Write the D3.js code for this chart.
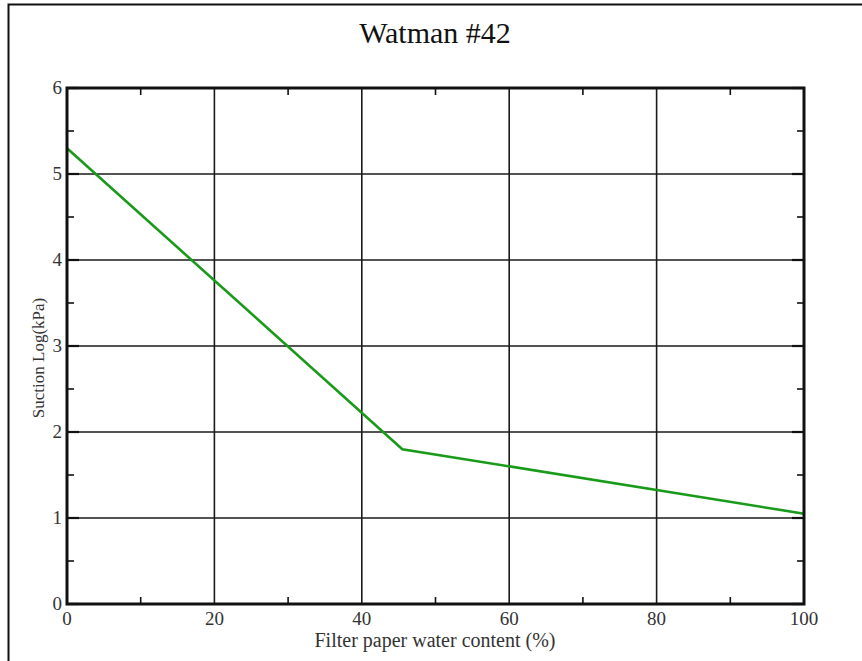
<!DOCTYPE html>
<html><head><meta charset="utf-8">
<script src="https://cdn.jsdelivr.net/npm/d3@7"></script>
<style>body{margin:0;background:#fff}svg{display:block}</style>
</head><body>
<script>
const title = "Watman #42";
const xLabel = "Filter paper water content (%)";
const yLabel = "Suction Log(kPa)";
const waterContent = [0, 45.5, 100];
const suction = [5.3, 1.8, 1.05];
const xTicks = [0, 20, 40, 60, 80, 100];
const yTicks = [0, 1, 2, 3, 4, 5, 6];
const xMinor = [10, 30, 50, 70, 90];
const yMinor = [0.5, 1.5, 2.5, 3.5, 4.5, 5.5];

const W = 862, H = 661;
const m = {left: 67, right: 862 - 804, top: 88, bottom: 661 - 604};
const svg = d3.select("body").append("svg").attr("width", W).attr("height", H);

// outer frame
svg.append("rect").attr("x", 8.5).attr("y", 4.5).attr("width", W).attr("height", H)
  .attr("fill", "none").attr("stroke", "#111").attr("stroke-width", 2);

const x = d3.scaleLinear().domain([0, 100]).range([m.left, W - m.right]);
const y = d3.scaleLinear().domain([0, 6]).range([H - m.bottom, m.top]);
const serif = "'Liberation Serif', 'DejaVu Serif', serif";

// grid
const g = svg.append("g");
g.selectAll("line.gx").data(xTicks.slice(1, -1)).join("line")
  .attr("x1", d => x(d)).attr("x2", d => x(d)).attr("y1", y(0)).attr("y2", y(6))
  .attr("stroke", "#1a1a1a").attr("stroke-width", 1.6);
g.selectAll("line.gy").data(yTicks.slice(1, -1)).join("line")
  .attr("y1", d => y(d)).attr("y2", d => y(d)).attr("x1", x(0)).attr("x2", x(100))
  .attr("stroke", "#1a1a1a").attr("stroke-width", 1.6);

// minor ticks inward
const tl = 7;
g.selectAll("line.mxb").data(xMinor).join("line")
  .attr("x1", d => x(d)).attr("x2", d => x(d)).attr("y1", y(0)).attr("y2", y(0) - tl)
  .attr("stroke", "#111").attr("stroke-width", 1.6);
g.selectAll("line.mxt").data(xMinor).join("line")
  .attr("x1", d => x(d)).attr("x2", d => x(d)).attr("y1", y(6)).attr("y2", y(6) + tl)
  .attr("stroke", "#111").attr("stroke-width", 1.6);
g.selectAll("line.myl").data(yMinor).join("line")
  .attr("y1", d => y(d)).attr("y2", d => y(d)).attr("x1", x(0)).attr("x2", x(0) + tl)
  .attr("stroke", "#111").attr("stroke-width", 1.6);
g.selectAll("line.myr").data(yMinor).join("line")
  .attr("y1", d => y(d)).attr("y2", d => y(d)).attr("x1", x(100)).attr("x2", x(100) - tl)
  .attr("stroke", "#111").attr("stroke-width", 1.6);
g.selectAll("line.myl2").data(yTicks).join("line")
  .attr("y1", d => y(d)).attr("y2", d => y(d)).attr("x1", x(0)).attr("x2", x(0) + 12)
  .attr("stroke", "#111").attr("stroke-width", 2.2);
g.selectAll("line.myr2").data(yTicks).join("line")
  .attr("y1", d => y(d)).attr("y2", d => y(d)).attr("x1", x(100)).attr("x2", x(100) - 12)
  .attr("stroke", "#111").attr("stroke-width", 2.2);

// data line
const line = d3.line().x((d, i) => x(waterContent[i])).y(d => y(d));
svg.append("path").datum(suction).attr("d", line)
  .attr("fill", "none").attr("stroke", "#1a9a1a").attr("stroke-width", 2.6);

// frame
svg.append("rect").attr("x", x(0)).attr("y", y(6)).attr("width", x(100) - x(0)).attr("height", y(0) - y(6))
  .attr("fill", "none").attr("stroke", "#111").attr("stroke-width", 3);

// tick labels
svg.selectAll("text.xt").data(xTicks).join("text")
  .attr("x", d => x(d)).attr("y", y(0) + 21).attr("text-anchor", "middle")
  .attr("font-family", serif).attr("font-size", 19).attr("fill", "#333").text(d => d);
svg.selectAll("text.yt").data(yTicks).join("text")
  .attr("x", x(0) - 5).attr("y", d => y(d) + 6).attr("text-anchor", "end")
  .attr("font-family", serif).attr("font-size", 19).attr("fill", "#333").text(d => d);

svg.append("text").attr("x", 435).attr("y", 43).attr("text-anchor", "middle")
  .attr("font-family", serif).attr("font-size", 30).attr("fill", "#111").text(title);
svg.append("text").attr("x", 435).attr("y", 647).attr("text-anchor", "middle")
  .attr("font-family", serif).attr("font-size", 20).attr("fill", "#333").text(xLabel);
svg.append("text").attr("transform", `translate(44,358) rotate(-90)`).attr("text-anchor", "middle")
  .attr("font-family", serif).attr("font-size", 17).attr("fill", "#333").text(yLabel);
</script>
</body></html>
